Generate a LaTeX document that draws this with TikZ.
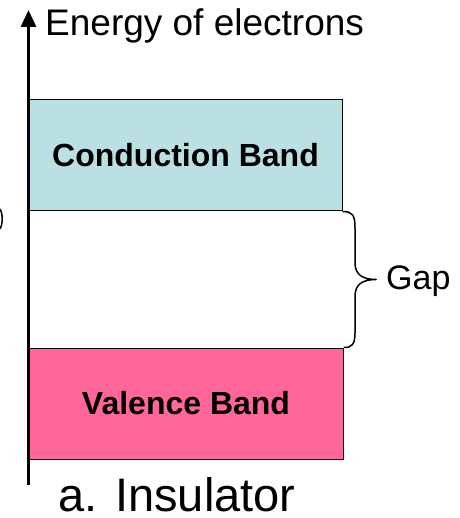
\documentclass[tikz,border=0pt]{standalone}
\usepackage{fontspec}
\setmainfont{Liberation Sans}
\usetikzlibrary{arrows.meta}
\definecolor{condcol}{RGB}{187,224,227}
\definecolor{valcol}{RGB}{255,102,153}
\begin{document}
\begin{tikzpicture}[x=1pt,y=-1pt,
  band/.style={draw=black,line width=1pt,inner sep=0pt,minimum width=313pt,minimum height=111pt,font=\fontsize{32}{36}\selectfont\bfseries},
  lbl/.style={inner sep=0pt,anchor=base west},
  axisline/.style={line width=3pt,-{Triangle[width=15pt,length=17pt]}},
  bracestyle/.style={line width=1.5pt,line join=round}]
\useasboundingbox (0,0) rectangle (459,518);
% bands
\node[band,fill=condcol] (cb) at (185.5,155.5) {Conduction Band};
\node[band,fill=valcol,minimum width=314pt] (vb) at (186,403.5) {Valence Band};
% axis
\coordinate (axbot) at (28.5,485);
\coordinate (axtop) at (28.5,10);
\draw[axisline] (axbot) -- (axtop);
% labels
\node[lbl,font=\fontsize{37}{42}\selectfont] (energy) at (45,35.5) {Energy of electrons};
\node[lbl,font=\fontsize{34}{38}\selectfont] (gap) at (386,289) {Gap};
\node[lbl,font=\fontsize{47}{52}\selectfont] (title) at (58.5,511) {a. Insulator};
% brace
\draw[bracestyle] (cb.south east) .. controls ++(10,0) and (355,215) .. (355,228)
  -- (355,263) .. controls (355,274) and (362,279.5) .. (376,279.5)
  .. controls (362,279.5) and (355,285) .. (355,296)
  -- (355,333) .. controls (355,344) and (352,348) .. (vb.north east);
% clipped fragment at left edge
\draw[line width=1.5pt] (0,209) .. controls (3,214) and (3,224) .. (0,229);
\end{tikzpicture}
\end{document}
